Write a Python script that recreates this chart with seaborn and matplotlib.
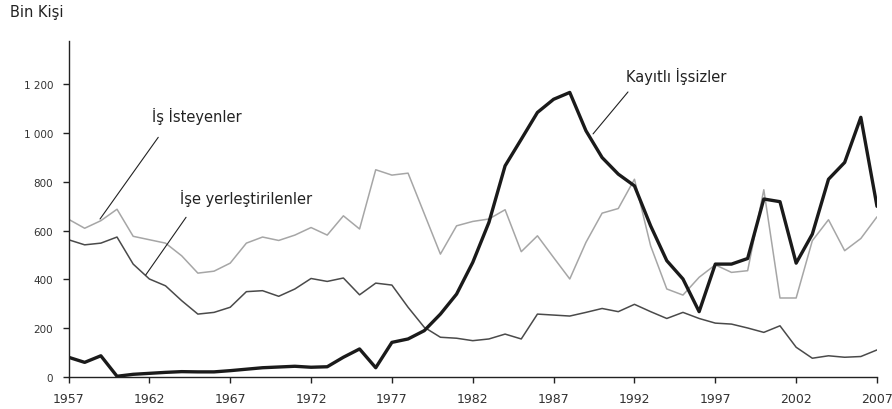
import numpy as np
import pandas as pd
import matplotlib
matplotlib.use("Agg")
import matplotlib.pyplot as plt
import seaborn as sns

years = list(range(1957, 2008))

is_isteyenler = [647, 610, 641, 688, 577, 563, 549, 497, 426, 434,
                 467, 549, 574, 560, 582, 613, 582, 661, 607, 850,
                 828, 836, 670, 504, 620, 638, 648, 686, 514, 579,
                 490, 402, 552, 672, 691, 811, 538, 361, 336, 409,
                 460, 429, 436, 768, 324, 324, 559, 645, 518, 568,
                 657]

ise_yerlestirilenler = [563, 542, 549, 574, 463, 402, 374, 313, 258, 265,
                        286, 350, 354, 331, 361, 404, 392, 406, 337, 385,
                        377, 286, 204, 163, 159, 149, 156, 176, 156, 258,
                        254, 250, 265, 281, 268, 298, 268, 240, 265, 240,
                        221, 217, 201, 183, 210, 122, 77, 87, 81, 84,
                        111]

kayitli_issizler = [81, 60, 87, 3, 11, 15, 19, 22, 21, 21,
                    26, 32, 38, 41, 44, 40, 42, 81, 115, 38,
                    142, 156, 190, 258, 340, 470, 634, 866, 975, 1085,
                    1139, 1167, 1010, 900, 832, 784, 620, 477, 402, 268,
                    463, 463, 486, 730, 719, 467, 586, 811, 880, 1065,
                    700]

series_names = ["İş İsteyenler", "İşe yerleştirilenler", "Kayıtlı İşsizler"]
y_ticks = [0, 200, 400, 600, 800, 1000, 1200]
y_tick_labels = ["0", "200", "400", "600", "800", "1 000", "1 200"]
x_ticks = list(range(1957, 2008, 5))

df = pd.DataFrame({
    "Yıl": years * 3,
    "Değer": is_isteyenler + ise_yerlestirilenler + kayitli_issizler,
    "Seri": [series_names[0]] * len(years) + [series_names[1]] * len(years)
            + [series_names[2]] * len(years),
})

sns.set_style("ticks")
plt.rcParams["font.family"] = ["DejaVu Sans"]

fig = plt.figure(figsize=(8.92, 4.10), dpi=100)
ax = fig.add_axes([68.5 / 892, 32 / 410, (877 - 68.5) / 892, (378 - 42) / 410])

palette = {series_names[0]: "#a6a6a6", series_names[1]: "#4a4a4a", series_names[2]: "#1a1a1a"}
widths = {series_names[0]: 1.1, series_names[1]: 1.1, series_names[2]: 2.4}
for name in series_names:
    sub = df[df["Seri"] == name]
    sns.lineplot(data=sub, x="Yıl", y="Değer", ax=ax, color=palette[name],
                 linewidth=widths[name], legend=False)

ax.set_xlim(1957, 2007)
ax.set_ylim(0, 1378)
ax.set_xticks(x_ticks)
ax.set_xticklabels([str(t) for t in x_ticks])
ax.set_yticks(y_ticks)
ax.set_yticklabels(y_tick_labels)
ax.set_xlabel("")
ax.set_ylabel("")
for s in ["top", "right"]:
    ax.spines[s].set_visible(False)
for s in ["left", "bottom"]:
    ax.spines[s].set_color("#222222")
    ax.spines[s].set_linewidth(1.0)
ax.tick_params(axis="both", colors="#222222", length=4, width=1)
ax.tick_params(axis="x", labelsize=9, pad=6.5, labelcolor="#333333")
ax.tick_params(axis="y", labelsize=7.5, pad=7, labelcolor="#333333")

# Annotations: leader lines + labels, in data coordinates
ann_color = "#222222"
lead = dict(arrowstyle="-", color=ann_color, lw=0.8, shrinkA=0, shrinkB=0)
ax.annotate("", xy=(1958.95, 648), xytext=(1962.55, 983), arrowprops=lead)
ax.text(1962.15, 1072, series_names[0], fontsize=10.5, color=ann_color,
        ha="left", va="center")
ax.annotate("", xy=(1961.77, 418), xytext=(1964.27, 655), arrowprops=lead)
ax.text(1963.9, 738, series_names[1], fontsize=10.5, color=ann_color,
        ha="left", va="center")
ax.annotate("", xy=(1989.44, 997), xytext=(1991.6, 1169), arrowprops=lead)
ax.text(1991.5, 1235, series_names[2], fontsize=10.5, color=ann_color,
        ha="left", va="center")

fig.text(10 / 892, 1 - 13 / 410, "Bin Kişi", fontsize=10.5, color="#222222",
         ha="left", va="center")

fig.savefig("out.png", dpi=100)
